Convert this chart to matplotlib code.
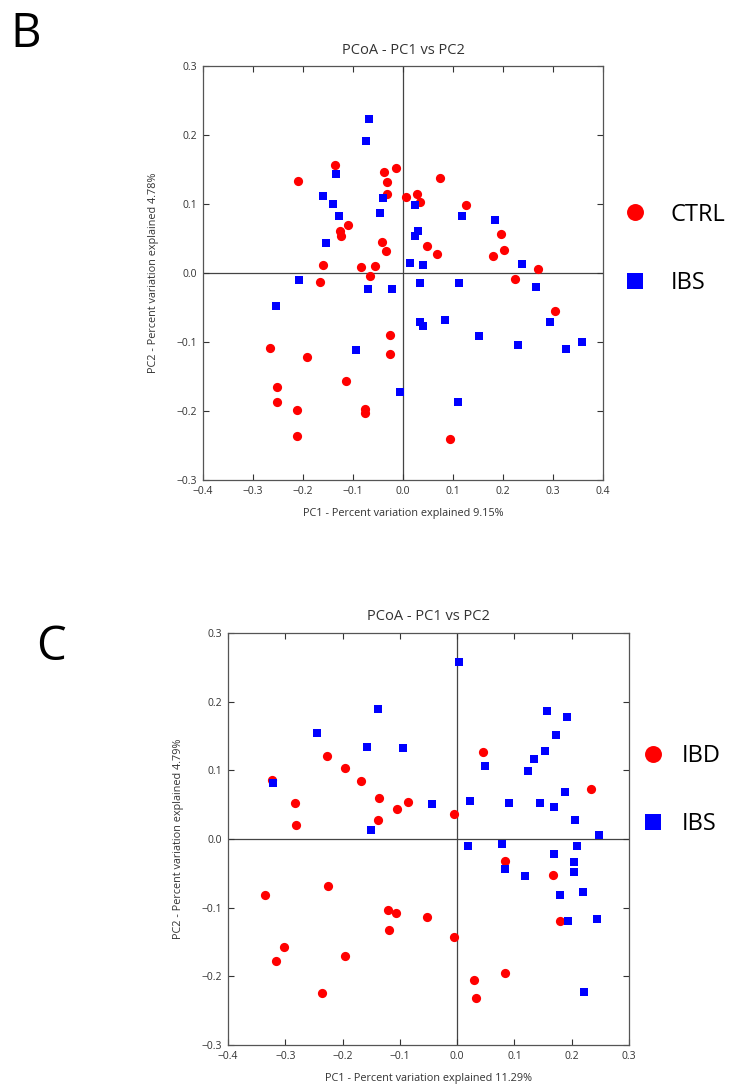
import matplotlib
matplotlib.use('Agg')
import matplotlib.pyplot as plt
from matplotlib.lines import Line2D

plt.rcParams['font.family'] = ['Open Sans', 'DejaVu Sans']

# panel B: CTRL vs IBS
b_ctrl_x = [-0.137, -0.211, -0.039, -0.015, -0.033, -0.033, 0.006, -0.110, -0.127, -0.125,
            -0.043, -0.035, -0.161, -0.085, -0.057, -0.067, -0.167, -0.027, -0.267, -0.027,
            -0.193, -0.114, -0.253, -0.253, -0.213, -0.077, -0.077, -0.212, 0.073, 0.027,
            0.033, 0.125, 0.195, 0.047, 0.067, 0.202, 0.179, 0.270, 0.224, 0.303, 0.093]
b_ctrl_y = [0.157, 0.134, 0.147, 0.152, 0.132, 0.114, 0.110, 0.070, 0.061, 0.053,
            0.045, 0.032, 0.012, 0.009, 0.010, -0.005, -0.013, -0.090, -0.109, -0.117,
            -0.122, -0.157, -0.165, -0.187, -0.199, -0.197, -0.203, -0.236, 0.137, 0.115,
            0.103, 0.099, 0.056, 0.039, 0.028, 0.033, 0.024, 0.006, -0.009, -0.055, -0.241]
b_ibs_x = [-0.068, -0.075, -0.135, -0.041, -0.160, -0.140, -0.129, -0.046, -0.155, 0.013,
           -0.209, -0.071, -0.023, -0.254, -0.095, -0.007, 0.023, 0.117, 0.183, 0.029,
           0.023, 0.039, 0.237, 0.034, 0.111, 0.265, 0.034, 0.039, 0.083, 0.294,
           0.151, 0.229, 0.325, 0.357, 0.109]
b_ibs_y = [0.223, 0.192, 0.144, 0.108, 0.111, 0.100, 0.083, 0.087, 0.044, 0.015,
           -0.010, -0.023, -0.023, -0.048, -0.112, -0.172, 0.098, 0.083, 0.077, 0.061,
           0.053, 0.012, 0.013, -0.015, -0.015, -0.020, -0.071, -0.077, -0.068, -0.071,
           -0.091, -0.104, -0.110, -0.100, -0.187]

# panel C: IBD vs IBS
c_ibd_x = [-0.228, -0.195, -0.168, -0.323, -0.283, -0.136, -0.086, -0.105, -0.138, -0.281,
           -0.225, -0.336, -0.121, -0.107, -0.053, -0.119, -0.303, -0.316, -0.195, -0.236,
           0.045, 0.233, -0.005, 0.083, 0.168, 0.180, -0.005, 0.083, 0.030, 0.033]
c_ibd_y = [0.121, 0.104, 0.085, 0.086, 0.052, 0.060, 0.054, 0.044, 0.028, 0.020,
           -0.068, -0.082, -0.103, -0.108, -0.114, -0.132, -0.157, -0.177, -0.170, -0.224,
           0.127, 0.073, 0.037, -0.032, -0.053, -0.120, -0.142, -0.195, -0.205, -0.231]
c_ibs_x = [-0.139, -0.244, -0.157, -0.094, -0.322, -0.044, -0.150, 0.004, 0.157, 0.192,
           0.172, 0.154, 0.134, 0.124, 0.049, 0.189, 0.022, 0.090, 0.145, 0.169,
           0.205, 0.247, 0.019, 0.079, 0.209, 0.169, 0.084, 0.204, 0.204, 0.119,
           0.220, 0.179, 0.193, 0.245, 0.222]
c_ibs_y = [0.189, 0.155, 0.134, 0.132, 0.082, 0.051, 0.013, 0.258, 0.187, 0.178,
           0.151, 0.128, 0.116, 0.099, 0.107, 0.068, 0.056, 0.053, 0.053, 0.047,
           0.027, 0.006, -0.010, -0.008, -0.010, -0.022, -0.043, -0.033, -0.048, -0.054,
           -0.077, -0.081, -0.119, -0.116, -0.223]

yticks = [-0.3, -0.2, -0.1, 0.0, 0.1, 0.2, 0.3]


def fmt(t):
    # unicode minus like the original tick labels
    return ('%.1f' % abs(t)) if t >= -1e-9 else '\u2212%.1f' % abs(t)


def pcoa_panel(fig, rect, xs_red, ys_red, xs_blue, ys_blue, xlim, xticks, xlabel, ylabel):
    ax = fig.add_axes(rect)
    ax.scatter(xs_red, ys_red, s=44, c='#ff0000', marker='o', linewidths=0, zorder=3)
    ax.scatter(xs_blue, ys_blue, s=28, c='#0000ff', marker='s', linewidths=0, zorder=3)
    ax.axhline(0, color='#444444', lw=0.9, zorder=1)
    ax.axvline(0, color='#444444', lw=0.9, zorder=1)
    ax.set_xlim(xlim)
    ax.set_ylim(-0.3, 0.3)
    ax.set_xticks(xticks)
    ax.set_yticks(yticks)
    ax.set_xticklabels([fmt(t) for t in xticks])
    ax.set_yticklabels([fmt(t) for t in yticks])
    ax.tick_params(direction='in', top=True, right=True, length=4, width=0.8,
                   labelsize=7.5, colors='#333333', pad=4)
    for sp in ax.spines.values():
        sp.set_color('#555555')
        sp.set_linewidth(0.9)
    ax.set_title('PCoA - PC1 vs PC2', fontsize=10.5, color='#333333', pad=9)
    ax.set_xlabel(xlabel, fontsize=7.8, color='#333333', labelpad=8)
    ax.set_ylabel(ylabel, fontsize=7.8, color='#333333', labelpad=13)
    return ax


def side_legend(fig, labels, anchor, spacing, textpad):
    handles = [Line2D([], [], ls='none', marker='o', color='#ff0000', markersize=12.2, mew=0),
               Line2D([], [], ls='none', marker='s', color='#0000ff', markersize=11.3, mew=0)]
    fig.legend(handles, labels, loc='center left', bbox_to_anchor=anchor,
               frameon=False, fontsize=17, labelspacing=spacing, handletextpad=textpad,
               handlelength=1.2, borderpad=0)


fig = plt.figure(figsize=(7.47, 10.84), dpi=100)

pcoa_panel(fig, [203 / 747, 1 - 480 / 1084, 400 / 747, 414 / 1084],
           b_ctrl_x, b_ctrl_y, b_ibs_x, b_ibs_y,
           (-0.4, 0.4), [-0.4, -0.3, -0.2, -0.1, 0.0, 0.1, 0.2, 0.3, 0.4],
           'PC1 - Percent variation explained 9.15%',
           'PC2 - Percent variation explained 4.78%')
side_legend(fig, ['CTRL', 'IBS'], (609 / 747, 1 - 249 / 1084), 1.9, 0.9)

pcoa_panel(fig, [228 / 747, 1 - 1045 / 1084, 401 / 747, 412 / 1084],
           c_ibd_x, c_ibd_y, c_ibs_x, c_ibs_y,
           (-0.4, 0.3), [-0.4, -0.3, -0.2, -0.1, 0.0, 0.1, 0.2, 0.3],
           'PC1 - Percent variation explained 11.29%',
           'PC2 - Percent variation explained 4.79%')
side_legend(fig, ['IBD', 'IBS'], (627 / 747, 1 - 790 / 1084), 1.85, 0.6)

fig.text(10 / 747, 1 - 34 / 1084, 'B', fontsize=34, va='center', ha='left')
fig.text(36 / 747, 1 - 647 / 1084, 'C', fontsize=34, va='center', ha='left')

fig.savefig('out.png', dpi=100)
